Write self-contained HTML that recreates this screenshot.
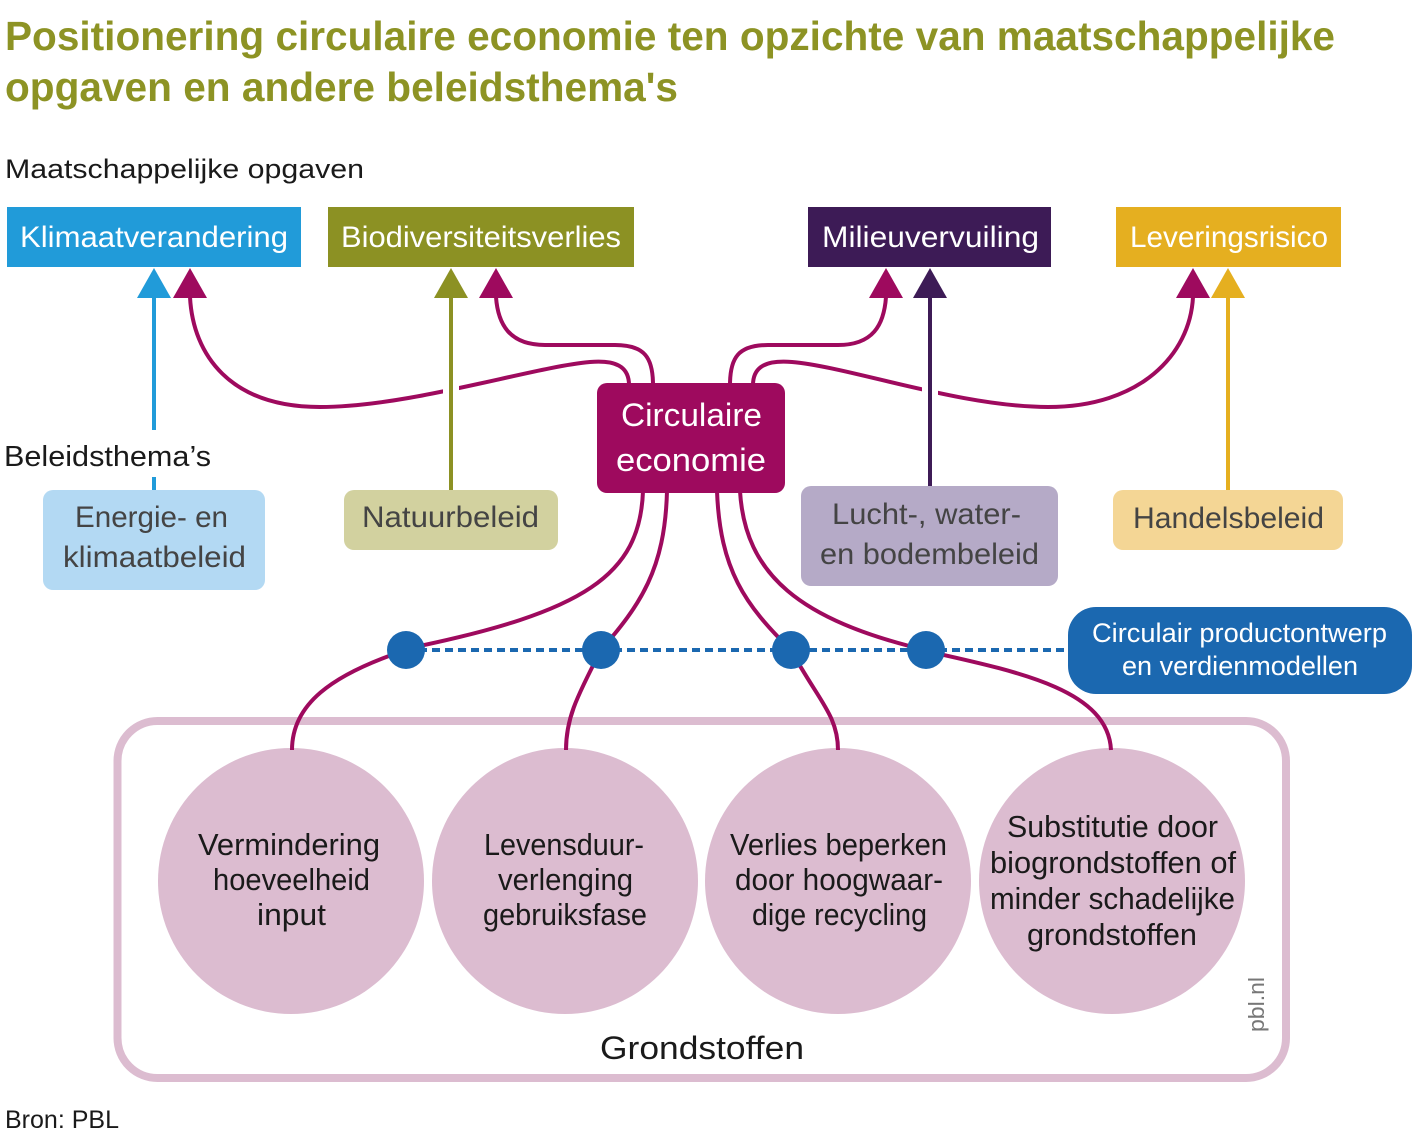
<!DOCTYPE html>
<html>
<head>
<meta charset="utf-8">
<style>
html,body{margin:0;padding:0;background:#fff;}
svg{display:block;}
text{font-family:"Liberation Sans",Arial,sans-serif;}
</style>
</head>
<body>
<svg width="1421" height="1137" viewBox="0 0 1421 1137" xmlns="http://www.w3.org/2000/svg">
  <!-- Title -->
  <text x="5" y="50" font-size="41" font-weight="bold" fill="#8d9324" textLength="1330" lengthAdjust="spacingAndGlyphs">Positionering circulaire economie ten opzichte van maatschappelijke</text>
  <text x="5" y="101" font-size="41" font-weight="bold" fill="#8d9324" textLength="673" lengthAdjust="spacingAndGlyphs">opgaven en andere beleidsthema's</text>

  <text x="5" y="178" font-size="27" fill="#1a1a1a" textLength="359" lengthAdjust="spacingAndGlyphs">Maatschappelijke opgaven</text>

  <!-- Top boxes -->
  <rect x="7" y="207" width="294" height="60" fill="#219bd9"/>
  <rect x="328" y="207" width="306" height="60" fill="#8c9123"/>
  <rect x="808" y="207" width="243" height="60" fill="#3d1b56"/>
  <rect x="1116" y="207" width="225" height="60" fill="#e5af20"/>
  <text x="20" y="247" font-size="30" fill="#fff" textLength="268" lengthAdjust="spacingAndGlyphs">Klimaatverandering</text>
  <text x="341" y="247" font-size="30" fill="#fff" textLength="280" lengthAdjust="spacingAndGlyphs">Biodiversiteitsverlies</text>
  <text x="822" y="247" font-size="30" fill="#fff" textLength="217" lengthAdjust="spacingAndGlyphs">Milieuvervuiling</text>
  <text x="1130" y="247" font-size="30" fill="#fff" textLength="198" lengthAdjust="spacingAndGlyphs">Leveringsrisico</text>

  <!-- Magenta upper connectors -->
  <g fill="none" stroke="#9e0a5e" stroke-width="4">
    <path d="M629,385 C629,366 615,360 590,362 C532,367 410,407 320,407 C230,407 193,355 190,297"/>
    <path d="M753,385 C753,366 767,360 792,362 C850,367 960,407 1048,407 C1140,407 1190,355 1193,297"/>
    <path d="M653,385 C653,358 645,345 615,345 L545,345 C510,345 498,325 496,297"/>
    <path d="M730,385 C730,358 738,345 768,345 L838,345 C873,345 884,325 886,297"/>
  </g>
  <!-- white gaps at crossings -->
  <rect x="443" y="372" width="16" height="34" fill="#fff"/>
  <rect x="922" y="372" width="16" height="34" fill="#fff"/>

  <!-- Vertical policy lines -->
  <g stroke-width="4">
    <line x1="154" y1="296" x2="154" y2="430" stroke="#219bd9"/>
    <line x1="154" y1="477" x2="154" y2="491" stroke="#219bd9"/>
    <line x1="451" y1="296" x2="451" y2="491" stroke="#8c9123"/>
    <line x1="930" y1="296" x2="930" y2="487" stroke="#3d1b56"/>
    <line x1="1228" y1="296" x2="1228" y2="491" stroke="#e5af20"/>
  </g>

  <!-- Arrowheads -->
  <polygon points="154,268 137,298 171,298" fill="#219bd9"/>
  <polygon points="190,268 173,298 207,298" fill="#9e0a5e"/>
  <polygon points="451,268 434,298 468,298" fill="#8c9123"/>
  <polygon points="496,268 479,298 513,298" fill="#9e0a5e"/>
  <polygon points="886,268 869,298 903,298" fill="#9e0a5e"/>
  <polygon points="930,268 913,298 947,298" fill="#3d1b56"/>
  <polygon points="1193,268 1176,298 1210,298" fill="#9e0a5e"/>
  <polygon points="1228,268 1211,298 1245,298" fill="#e5af20"/>

  <!-- Beleidsthema's -->
  <text x="4" y="466" font-size="29" fill="#1a1a1a" textLength="207" lengthAdjust="spacingAndGlyphs">Beleidsthema’s</text>

  <!-- Policy boxes -->
  <rect x="43" y="490" width="222" height="100" rx="10" fill="#b3d9f3"/>
  <rect x="344" y="490" width="214" height="60" rx="10" fill="#d2d19f"/>
  <rect x="801" y="486" width="257" height="100" rx="10" fill="#b5aac7"/>
  <rect x="1113" y="490" width="230" height="60" rx="10" fill="#f4d695"/>
  <g font-size="30" fill="#444">
    <text x="75" y="527" textLength="153" lengthAdjust="spacingAndGlyphs">Energie- en</text>
    <text x="63" y="567" textLength="183" lengthAdjust="spacingAndGlyphs">klimaatbeleid</text>
    <text x="362" y="527" textLength="177" lengthAdjust="spacingAndGlyphs">Natuurbeleid</text>
    <text x="832" y="524" textLength="189" lengthAdjust="spacingAndGlyphs">Lucht-, water-</text>
    <text x="820" y="564" textLength="219" lengthAdjust="spacingAndGlyphs">en bodembeleid</text>
    <text x="1133" y="528" textLength="191" lengthAdjust="spacingAndGlyphs">Handelsbeleid</text>
  </g>

  <!-- Circulaire economie box -->
  <rect x="597" y="383" width="188" height="110" rx="10" fill="#9e0a5e"/>
  <text x="621" y="426" font-size="32" fill="#fff" textLength="141" lengthAdjust="spacingAndGlyphs">Circulaire</text>
  <text x="616" y="471" font-size="32" fill="#fff" textLength="150" lengthAdjust="spacingAndGlyphs">economie</text>

  <!-- Grondstoffen container -->
  <rect x="117.5" y="721" width="1168.5" height="357" rx="40" fill="none" stroke="#dcbcd0" stroke-width="8"/>

  <!-- Circles -->
  <g fill="#dcbcd0">
    <circle cx="291" cy="881" r="133"/>
    <circle cx="565" cy="881" r="133"/>
    <circle cx="838" cy="881" r="133"/>
    <circle cx="1112" cy="881" r="133"/>
  </g>

  <!-- Lower magenta connectors -->
  <g fill="none" stroke="#9e0a5e" stroke-width="4">
    <path d="M643,491 C640,575 585,612 410,648"/>
    <path d="M667,491 C665,570 640,605 601,650"/>
    <path d="M717,491 C720,570 745,605 791,650"/>
    <path d="M740,491 C745,575 800,620 925,650"/>
    <path d="M406,650 C330,675 292,705 292,750"/>
    <path d="M601,650 C575,700 566,720 566,750"/>
    <path d="M791,650 C818,700 838,715 838,750"/>
    <path d="M926,651 C1020,672 1108,690 1111,750"/>
  </g>

  <!-- Dashed line -->
  <line x1="406" y1="650" x2="1070" y2="650" stroke="#1b68b0" stroke-width="4" stroke-dasharray="8,5"/>

  <!-- Dots -->
  <g fill="#1b68b0">
    <circle cx="406" cy="650" r="19"/>
    <circle cx="601" cy="650" r="19"/>
    <circle cx="791" cy="650" r="19"/>
    <circle cx="926" cy="650" r="19"/>
  </g>

  <!-- Blue box -->
  <rect x="1068" y="607" width="344" height="87" rx="28" fill="#1b68b0"/>
  <text x="1092" y="642" font-size="27" fill="#fff" textLength="295" lengthAdjust="spacingAndGlyphs">Circulair productontwerp</text>
  <text x="1122" y="675" font-size="27" fill="#fff" textLength="236" lengthAdjust="spacingAndGlyphs">en verdienmodellen</text>

  <!-- Circle texts -->
  <g font-size="31" fill="#1a1a1a">
    <text x="198" y="855" textLength="182" lengthAdjust="spacingAndGlyphs">Vermindering</text>
    <text x="213" y="890" textLength="157" lengthAdjust="spacingAndGlyphs">hoeveelheid</text>
    <text x="257" y="925" textLength="69" lengthAdjust="spacingAndGlyphs">input</text>

    <text x="484" y="855" textLength="160" lengthAdjust="spacingAndGlyphs">Levensduur-</text>
    <text x="498" y="890" textLength="135" lengthAdjust="spacingAndGlyphs">verlenging</text>
    <text x="483" y="925" textLength="164" lengthAdjust="spacingAndGlyphs">gebruiksfase</text>

    <text x="730" y="855" textLength="217" lengthAdjust="spacingAndGlyphs">Verlies beperken</text>
    <text x="735" y="890" textLength="208" lengthAdjust="spacingAndGlyphs">door hoogwaar-</text>
    <text x="752" y="925" textLength="175" lengthAdjust="spacingAndGlyphs">dige recycling</text>

    <text x="1007" y="837" textLength="211" lengthAdjust="spacingAndGlyphs">Substitutie door</text>
    <text x="990" y="873" textLength="246" lengthAdjust="spacingAndGlyphs">biogrondstoffen of</text>
    <text x="990" y="909" textLength="245" lengthAdjust="spacingAndGlyphs">minder schadelijke</text>
    <text x="1027" y="945" textLength="170" lengthAdjust="spacingAndGlyphs">grondstoffen</text>
  </g>

  <text x="600" y="1059" font-size="32" fill="#1a1a1a" textLength="204" lengthAdjust="spacingAndGlyphs">Grondstoffen</text>

  <text transform="translate(1264,1032) rotate(-90)" x="0" y="0" font-size="22" fill="#777" textLength="55" lengthAdjust="spacingAndGlyphs">pbl.nl</text>

  <text x="5" y="1128" font-size="25" fill="#1a1a1a" textLength="114" lengthAdjust="spacingAndGlyphs">Bron: PBL</text>
</svg>
</body>
</html>
